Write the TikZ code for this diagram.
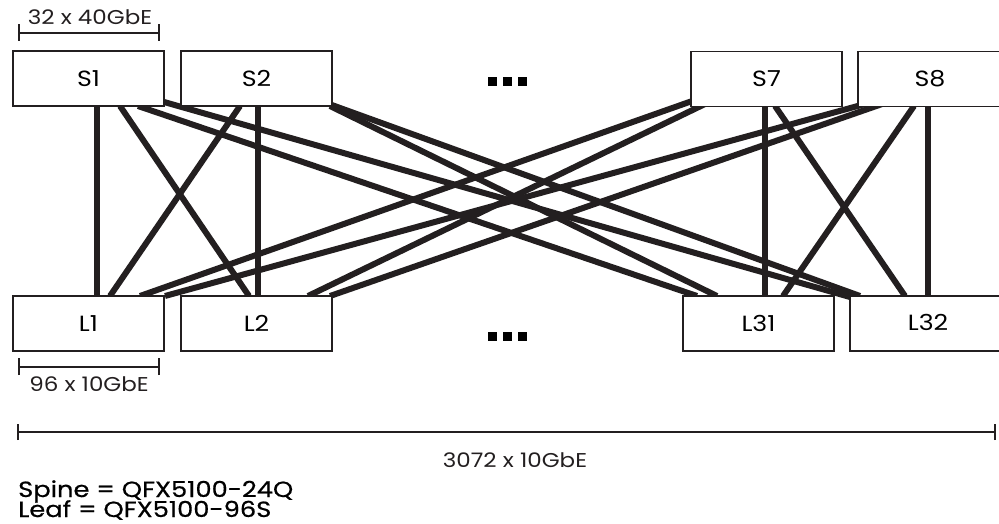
\documentclass[tikz,border=0pt]{standalone}
\usepackage{fontspec}
\setmainfont[FakeStretch=1.15]{Poppins}
\newfontfamily\legendfont[FakeBold=0.6,FakeStretch=1.17]{Poppins}
\definecolor{ink}{HTML}{231F20}
\begin{document}
\begin{tikzpicture}[x=1pt,y=-1pt,
  link/.style={draw=ink,line width=6pt},
  devbox/.style={draw=ink,fill=white,line width=1.5pt,minimum width=151pt,minimum height=55pt,inner sep=0pt,font=\fontsize{22}{24}\selectfont},
  devlabel/.style={font=\fontsize{22}{24}\selectfont,inner sep=0pt},
  bar/.style={draw=ink,line width=1.5pt},
  dimtext/.style={font=\fontsize{20}{22}\selectfont,text=ink,inner sep=0pt},
  legend/.style={anchor=base west,inner sep=0pt,font=\legendfont\fontsize{22}{24}\selectfont,text=black},
  dot/.style={fill=black,draw=none,minimum size=9pt,inner sep=0pt}]
\useasboundingbox (0,0) rectangle (999,524);
% link anchor coordinates
\coordinate (a1) at (97,106);   \coordinate (b1) at (97,296);
\coordinate (a2) at (120,106);  \coordinate (b2) at (249,296);
\coordinate (a3) at (138,106);  \coordinate (b3) at (697,296);
\coordinate (a4) at (150,98);   \coordinate (b4) at (850,297);
\coordinate (a5) at (240,106);  \coordinate (b5) at (110,296);
\coordinate (a6) at (258,106);  \coordinate (b6) at (258,296);
\coordinate (a7) at (330,106);  \coordinate (b7) at (717,296);
\coordinate (a8) at (318,100);  \coordinate (b8) at (860,296);
\coordinate (a9) at (695,100);  \coordinate (b9) at (140,296);
\coordinate (a10) at (705,104); \coordinate (b10) at (308,296);
\coordinate (a11) at (865,104); \coordinate (b11) at (165,296);
\coordinate (a12) at (885,103); \coordinate (b12) at (330,296);
\coordinate (a13) at (765,106); \coordinate (b13) at (765,296);
\coordinate (a14) at (775,106); \coordinate (b14) at (905,296);
\coordinate (a15) at (914,106); \coordinate (b15) at (783,296);
\coordinate (a16) at (928,106); \coordinate (b16) at (928,296);
\foreach \i in {1,...,16} { \draw[link] (a\i) -- (b\i); }
% spine boxes
\node[devbox] (S1) at (88.5,78.5) {S1};
\node[devbox] (S2) at (256.5,78.5) {S2};
\node[devbox] (S7) at (766.5,79) {S7};
\node[devbox] (S8) at (933.5,79) {};
\node[devlabel] (S8t) at (930,79) {S8};
% leaf boxes
\node[devbox] (L1) at (88.5,323.5) {L1};
\node[devbox] (L2) at (256.5,323.5) {L2};
\node[devbox] (L31) at (758.5,323.5) {L31};
\node[devbox] (L32) at (925.5,323.5) {};
\node[devlabel] (L32t) at (928,322) {L32};
% ellipsis dots
\foreach \x/\n in {492.5/1,507.5/2,522.5/3} {
  \node[dot] (td\n) at (\x,81.5) {};
  \node[dot] (bd\n) at (\x,336.5) {};
}
% dimension bars
\coordinate (t1) at (19,33); \coordinate (t2) at (159,33);
\draw[bar] (t1) -- (t2);
\draw[bar] ([yshift=-8pt]t1) -- ([yshift=9pt]t1);
\draw[bar] ([yshift=-8pt]t2) -- ([yshift=9pt]t2);
\node[dimtext] (tlab) at (90,17) {32 x 40GbE};
\coordinate (m1) at (19,367); \coordinate (m2) at (159,367);
\draw[bar] (m1) -- (m2);
\draw[bar] ([yshift=-8pt]m1) -- ([yshift=9pt]m1);
\draw[bar] ([yshift=-8pt]m2) -- ([yshift=9pt]m2);
\node[dimtext] (mlab) at (89,384) {96 x 10GbE};
\coordinate (w1) at (18,432); \coordinate (w2) at (995,432);
\draw[bar] (w1) -- (w2);
\draw[bar] ([yshift=-8pt]w1) -- ([yshift=8pt]w1);
\draw[bar] ([yshift=-8pt]w2) -- ([yshift=8pt]w2);
\node[dimtext] (wlab) at (515,460) {3072 x 10GbE};
% legend
\node[legend] (leg1) at (18,497) {Spine = QFX5100-24Q};
\node[legend] (leg2) at (18,517) {Leaf = QFX5100-96S};
\end{tikzpicture}
\end{document}
